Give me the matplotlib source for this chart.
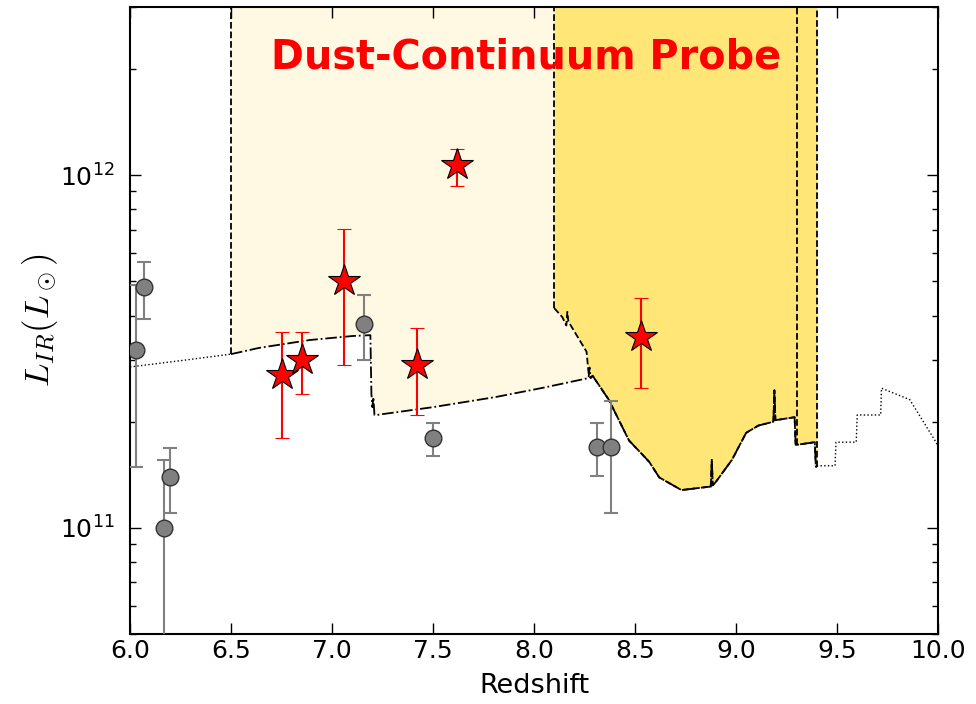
import matplotlib
matplotlib.use("Agg")
import matplotlib.pyplot as plt
import numpy as np

# red stars (this work)
star_z = [6.75, 6.85, 7.06, 7.42, 7.62, 8.53]
star_L = [2.71e11, 2.99e11, 5.01e11, 2.90e11, 1.07e12, 3.48e11]
star_hi = [3.59e11, 3.59e11, 7.05e11, 3.69e11, 1.19e12, 4.48e11]
star_lo = [1.80e11, 2.40e11, 2.90e11, 2.09e11, 9.33e11, 2.49e11]

# gray circles (literature)
lit_z = [6.03, 6.07, 6.17, 6.20, 7.16, 7.50, 8.31, 8.38]
lit_L = [3.19e11, 4.81e11, 1.00e11, 1.39e11, 3.79e11, 1.80e11, 1.70e11, 1.70e11]
lit_hi = [4.88e11, 5.68e11, 1.56e11, 1.69e11, 4.58e11, 1.99e11, 1.99e11, 2.29e11]
lit_lo = [1.49e11, 3.91e11, 1.0e9, 1.10e11, 2.99e11, 1.60e11, 1.40e11, 1.10e11]

# detection limit, first band (6.5 - 8.28)
b1_z = [6.50, 6.64, 6.89, 7.10, 7.19, 7.195, 7.20, 7.205, 7.21, 7.22, 7.50, 7.81, 8.05, 8.27, 8.275, 8.28]
b1_L = [3.11e11, 3.24e11, 3.41e11, 3.50e11, 3.52e11, 2.40e11, 2.20e11, 2.35e11, 2.09e11, 2.09e11,
        2.20e11, 2.35e11, 2.50e11, 2.66e11, 2.85e11, 2.66e11]

# detection limit, second band (8.1 - 9.4)
b2_z = [8.10, 8.14, 8.16, 8.165, 8.17, 8.26, 8.27, 8.28, 8.29, 8.37, 8.47, 8.57, 8.62, 8.73, 8.875,
        8.88, 8.885, 8.90, 8.98, 9.05, 9.11, 9.185, 9.19, 9.195, 9.29, 9.295, 9.30, 9.39, 9.395, 9.40]
b2_L = [4.20e11, 3.96e11, 3.75e11, 4.10e11, 3.85e11, 3.16e11, 2.75e11, 2.66e11, 2.70e11, 2.31e11,
        1.77e11, 1.54e11, 1.39e11, 1.28e11, 1.31e11, 1.56e11, 1.32e11, 1.35e11, 1.56e11, 1.86e11,
        1.95e11, 2.00e11, 2.46e11, 2.02e11, 2.06e11, 1.72e11, 1.72e11, 1.75e11, 1.49e11, 1.49e11]

# dotted parts outside the bands
lo_z = [6.00, 6.25, 6.50]
lo_L = [2.86e11, 2.98e11, 3.11e11]
hi_z = [9.40, 9.49, 9.495, 9.595, 9.60, 9.716, 9.72, 9.86, 9.99, 10.0]
hi_L = [1.50e11, 1.50e11, 1.75e11, 1.75e11, 2.09e11, 2.09e11, 2.49e11, 2.31e11, 1.75e11, 1.70e11]

ymin, ymax = 5e10, 3e12

fig = plt.figure(figsize=(9.76, 7.04), dpi=100)
ax = fig.add_axes([0.1332, 0.0994, 0.8279, 0.8906])
ax.set_yscale("log")

ax.fill_between(b1_z, b1_L, ymax, color="#FFF9E3", lw=0, zorder=1)
ax.fill_between(b2_z, b2_L, ymax, color="#FFE677", lw=0, zorder=2)

ax.plot(lo_z, lo_L, ":", color="k", lw=1, zorder=3)
ax.plot(hi_z, hi_L, ":", color="k", lw=1, zorder=3)
ax.plot(b1_z, b1_L, "-.", color="k", lw=1.3, zorder=3)
ax.plot(b2_z, b2_L, "--", color="k", lw=1.3, zorder=3)
i0 = b2_z.index(8.28)
ax.plot(b2_z[i0:], b2_L[i0:], "-.", color="k", lw=1.3, zorder=3)

# band edges
ax.plot([6.5, 6.5], [b1_L[0], ymax], "--", color="k", lw=1.3, zorder=3)
ax.plot([8.1, 8.1], [b2_L[0], ymax], "--", color="k", lw=1.3, zorder=3)
ax.plot([9.3, 9.3], [1.72e11, ymax], "--", color="k", lw=1.3, zorder=3)
ax.plot([9.4, 9.4], [b2_L[-1], ymax], "--", color="k", lw=1.3, zorder=3)

lit_L = np.array(lit_L)
ax.errorbar(lit_z, lit_L, yerr=[lit_L - np.array(lit_lo), np.array(lit_hi) - lit_L],
            fmt="o", color="gray", ms=12, mec="#333333", mfc="gray", ecolor="gray",
            elinewidth=1.5, capsize=5, capthick=1.5, zorder=4)

star_L = np.array(star_L)
ax.errorbar(star_z, star_L, yerr=[star_L - np.array(star_lo), np.array(star_hi) - star_L],
            fmt="*", ms=24, mfc="red", mec="k", mew=0.8, ecolor="red",
            elinewidth=1.5, capsize=5, capthick=1.5, zorder=5)

ax.text(7.963, 2.16e12, "Dust-Continuum Probe", color="red", fontsize=28.6,
        fontweight="bold", ha="center", va="center", zorder=6)

ax.set_xlim(6.0, 10.0)
ax.set_ylim(ymin, ymax)
ax.set_xticks(np.arange(6.0, 10.01, 0.5))
ax.xaxis.set_minor_locator(matplotlib.ticker.NullLocator())
ax.tick_params(which="both", direction="in", top=True, right=True, labelsize=18)
ax.tick_params(which="major", length=8, width=1)
ax.tick_params(which="minor", length=4, width=1)
ax.tick_params(axis="y", which="both", pad=11)
for s in ax.spines.values():
    s.set_linewidth(1.5)

ax.set_xlabel("Redshift", fontsize=19.5, labelpad=7)
ax.set_ylabel(r"$L_{IR}(L_\odot)$", fontsize=25, math_fontfamily="cm", labelpad=0)

fig.savefig("out.png", dpi=100)
